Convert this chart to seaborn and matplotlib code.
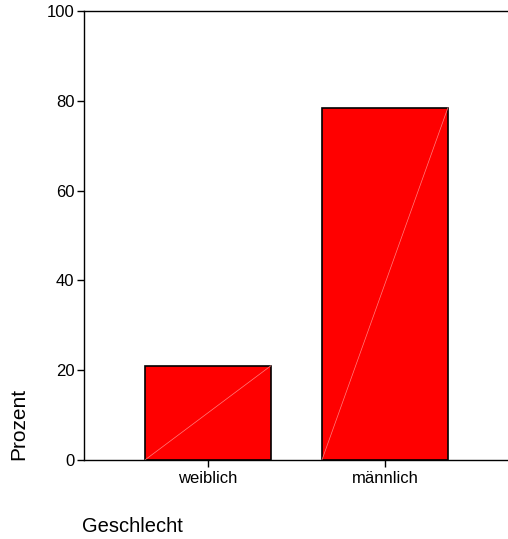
import matplotlib
matplotlib.use("Agg")
import matplotlib.pyplot as plt
import seaborn as sns
import pandas as pd

# data
categories = ["weiblich", "männlich"]
prozent = [21.0, 78.5]
yticks = [0, 20, 40, 60, 80, 100]

df = pd.DataFrame({"Geschlecht": categories, "Prozent": prozent})

sns.set_style("white")
plt.rcParams['font.family'] = ['Liberation Sans', 'DejaVu Sans']

fig = plt.figure(figsize=(5.08, 5.39), dpi=100)
ax = fig.add_axes([84 / 508, 1 - 460 / 539, 1 - 84 / 508, (460 - 11) / 539])

sns.barplot(data=df, x="Geschlecht", y="Prozent", ax=ax, color="#ff0000",
            saturation=1, width=0.712, edgecolor="black", linewidth=1.2)

# faint diagonal line inside each bar (as in the original export)
for p in ax.patches:
    x0, y0 = p.get_x(), p.get_y()
    ax.plot([x0, x0 + p.get_width()], [y0, y0 + p.get_height()],
            color="#ff8080", lw=0.5, zorder=p.get_zorder() + 0.1)

ax.set_xlim(-0.70, 1.695)
ax.set_ylim(0, 100)
ax.set_yticks(yticks)
ax.set_yticklabels([str(t) for t in yticks])

for side in ["left", "top", "bottom"]:
    ax.spines[side].set_visible(True)
    ax.spines[side].set_color("black")
    ax.spines[side].set_linewidth(1.0)
ax.spines["right"].set_visible(False)

ax.tick_params(axis="both", which="major", direction="out", length=5, width=1,
               color="black", labelsize=12, labelcolor="black")
ax.tick_params(axis="y", pad=2, left=True)
ax.tick_params(axis="x", pad=3, bottom=True)

ax.set_xlabel("Geschlecht", fontsize=14.5, ha="left", va="center", color="black")
ax.xaxis.set_label_coords(82 / 508, 1 - 527 / 539, transform=fig.transFigure)
ax.set_ylabel("Prozent", fontsize=15, ha="left", va="center", color="black")
ax.yaxis.set_label_coords(18.5 / 508, 1 - 460 / 539, transform=fig.transFigure)

fig.savefig("out.png", dpi=100)
